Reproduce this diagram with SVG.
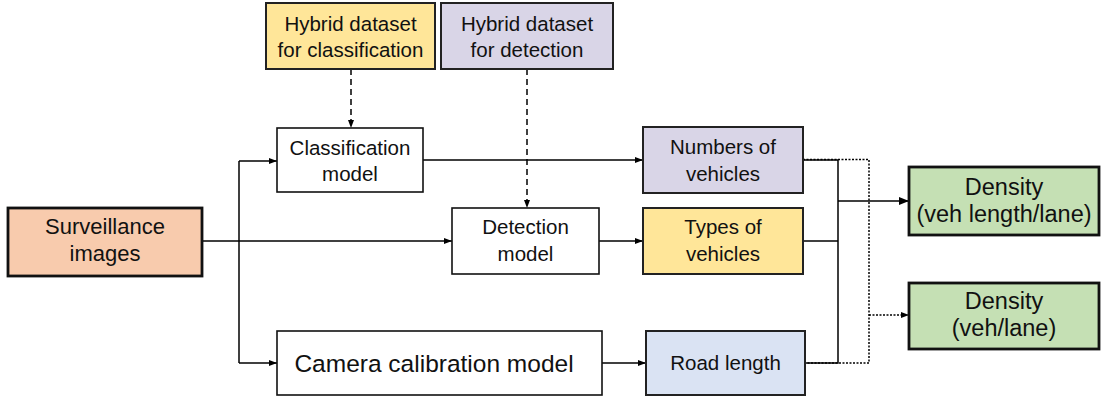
<svg xmlns="http://www.w3.org/2000/svg" width="1101" height="397" viewBox="0 0 1101 397">
<defs>
<marker id="ah" viewBox="0 0 8 6" refX="8" refY="3" markerWidth="8" markerHeight="6" markerUnits="userSpaceOnUse" orient="auto">
<path d="M0,0 L8,3 L0,6 Z" fill="#000"/>
</marker>
<marker id="ahb" viewBox="0 0 10 8" refX="10" refY="4" markerWidth="10" markerHeight="8" markerUnits="userSpaceOnUse" orient="auto">
<path d="M0,0 L10,4 L0,8 Z" fill="#000"/>
</marker>
</defs>
<style>
text { font-family: "Liberation Sans", Arial, sans-serif; font-size: 20.5px; fill: #111; text-anchor: middle; }
.big { font-size: 22px; }
.den { font-size: 23.5px; }
.cam { font-size: 24.5px; }
.white { fill: #fff; stroke: #111; stroke-width: 1.6; }
.col { stroke: #222; stroke-width: 2; }
.thick { stroke: #111; stroke-width: 2.8; }
.yel { fill: #FFE699; }
.pur { fill: #D9D5E7; }
.org { fill: #F8CBAD; }
.grn { fill: #C5E0B4; }
.blu { fill: #DAE3F3; }
.line { fill: none; stroke: #000; stroke-width: 1.5; }
.dash { fill: none; stroke: #000; stroke-width: 1.5; stroke-dasharray: 6 4; }
.dot { fill: none; stroke: #000; stroke-width: 1.5; stroke-dasharray: 2 1.5; }
</style>
<g id="connectors">
<path class="dash" d="M351,69 V128" marker-end="url(#ah)"/>
<path class="dash" d="M527,69 V208" marker-end="url(#ah)"/>
<path class="line" d="M202,241 H452" marker-end="url(#ah)"/>
<path class="line" d="M239,161 V363"/>
<path class="line" d="M239,161 H277" marker-end="url(#ah)"/>
<path class="line" d="M239,363 H277" marker-end="url(#ah)"/>
<path class="line" d="M423,160 H643" marker-end="url(#ah)"/>
<path class="line" d="M599,241 H643" marker-end="url(#ah)"/>
<path class="line" d="M602,363 H646" marker-end="url(#ah)"/>
<path class="line" d="M803,160 H838 V363 H805"/>
<path class="line" d="M803,241 H838"/>
<path class="line" d="M838,201 H909" stroke-width="2.5" marker-end="url(#ahb)"/>
<path class="dot" d="M803,159.5 H869 V363 H805"/>
<path class="dot" d="M869,315 H909" marker-end="url(#ah)"/>
</g>
<g id="hybrid-classification">
<rect class="col yel" x="266" y="3" width="169" height="66"/>
<text x="350.5" y="31">Hybrid dataset</text>
<text x="350.5" y="57">for classification</text>
</g>
<g id="hybrid-detection">
<rect class="col pur" x="441" y="3" width="172" height="66"/>
<text x="527" y="31">Hybrid dataset</text>
<text x="527" y="57">for detection</text>
</g>
<g id="classification-model">
<rect class="white" x="277" y="128" width="146" height="64"/>
<text x="350" y="155">Classification</text>
<text x="350" y="181">model</text>
</g>
<g id="surveillance-images">
<rect class="thick org" x="8" y="208" width="194" height="68"/>
<text class="big" x="105" y="234">Surveillance</text>
<text class="big" x="105" y="261">images</text>
</g>
<g id="detection-model">
<rect class="white" x="452" y="208" width="147" height="66"/>
<text x="525.5" y="234">Detection</text>
<text x="525.5" y="261">model</text>
</g>
<g id="camera-calibration-model">
<rect class="white" x="277" y="331" width="325" height="64"/>
<text class="cam" x="434" y="372">Camera calibration model</text>
</g>
<g id="numbers-of-vehicles">
<rect class="col pur" x="643" y="127" width="160" height="66"/>
<text x="723" y="154">Numbers of</text>
<text x="723" y="181">vehicles</text>
</g>
<g id="types-of-vehicles">
<rect class="col yel" x="643" y="208" width="160" height="66"/>
<text x="723" y="234">Types of</text>
<text x="723" y="261">vehicles</text>
</g>
<g id="road-length">
<rect class="col blu" x="646" y="331" width="159" height="64"/>
<text x="725.5" y="370">Road length</text>
</g>
<g id="density-length">
<rect class="thick grn" x="909" y="167" width="190" height="68"/>
<text class="den" x="1004" y="195">Density</text>
<text class="den" x="1004" y="222">(veh length/lane)</text>
</g>
<g id="density-veh">
<rect class="thick grn" x="909" y="283" width="190" height="66"/>
<text class="den" x="1004" y="309">Density</text>
<text class="den" x="1004" y="336">(veh/lane)</text>
</g>
</svg>
